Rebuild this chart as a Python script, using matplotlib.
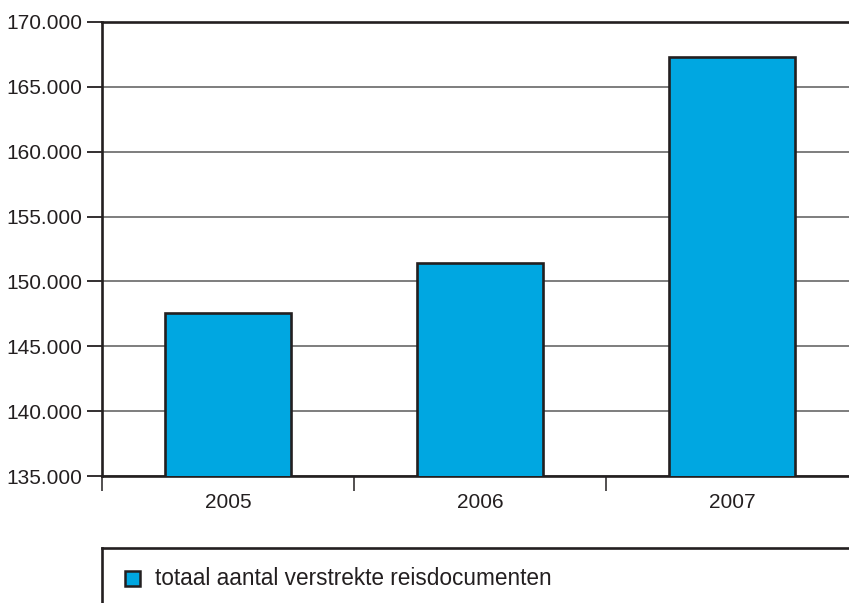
import matplotlib.pyplot as plt
from matplotlib.ticker import FuncFormatter
from matplotlib.patches import Rectangle

plt.rcParams['font.family'] = ['Liberation Sans', 'DejaVu Sans']

years = ['2005', '2006', '2007']
documenten = [147600, 151450, 167300]
y_ticks = [135000, 140000, 145000, 150000, 155000, 160000, 165000, 170000]
legend_label = 'totaal aantal verstrekte reisdocumenten'

bar_color = '#00a7e1'
edge_color = '#231f20'

fig = plt.figure(figsize=(8.49, 6.03), dpi=100)
ax = fig.add_axes([102 / 849, 1 - 476 / 603, 1 - 102 / 849, (476 - 22) / 603])

x = list(range(len(years)))
ax.bar(x, documenten, width=0.5, color=bar_color, edgecolor=edge_color,
       linewidth=1.9, zorder=3)

ax.set_ylim(135000, 170000)
ax.set_xlim(-0.5, 2.464)
ax.set_yticks(y_ticks)
ax.yaxis.set_major_formatter(FuncFormatter(lambda v, p: f'{int(v):,}'.replace(',', '.')))
ax.grid(axis='y', color='#5a5a5a', linewidth=1.1, zorder=1)

# year labels in the middle, tick marks on the boundaries
ax.set_xticks(x)
ax.set_xticklabels(years)
ax.tick_params(axis='x', which='major', length=0, pad=12, labelsize=15, colors='#231f20')
ax.set_xticks([-0.5, 0.5, 1.5], minor=True)
ax.tick_params(axis='x', which='minor', length=11, width=1.1, color='#231f20')
ax.tick_params(axis='y', length=11, width=1.3, pad=3, labelsize=15, colors='#231f20')

for s in ['left', 'bottom', 'top']:
    ax.spines[s].set_linewidth(1.9)
    ax.spines[s].set_color(edge_color)
ax.spines['right'].set_visible(False)

# legend box, cut off by the figure edge
lax = fig.add_axes([102 / 849, -0.1, 1 - 102 / 849, 0.1 + (603 - 548) / 603])
lax.set_xlim(0, 1)
lax.set_ylim(0, 1)
lax.set_xticks([])
lax.set_yticks([])
lax.spines['right'].set_visible(False)
lax.spines['bottom'].set_visible(False)
for s in ['left', 'top']:
    lax.spines[s].set_linewidth(1.9)
    lax.spines[s].set_color(edge_color)
lax.add_patch(Rectangle((0.0308, 0.674), 0.02, 0.13, facecolor=bar_color,
                        edgecolor=edge_color, linewidth=1.8))
lax.text(0.071, 0.739, legend_label, fontsize=16.3, color='#231f20', va='center')

fig.savefig('out.png', dpi=100)
